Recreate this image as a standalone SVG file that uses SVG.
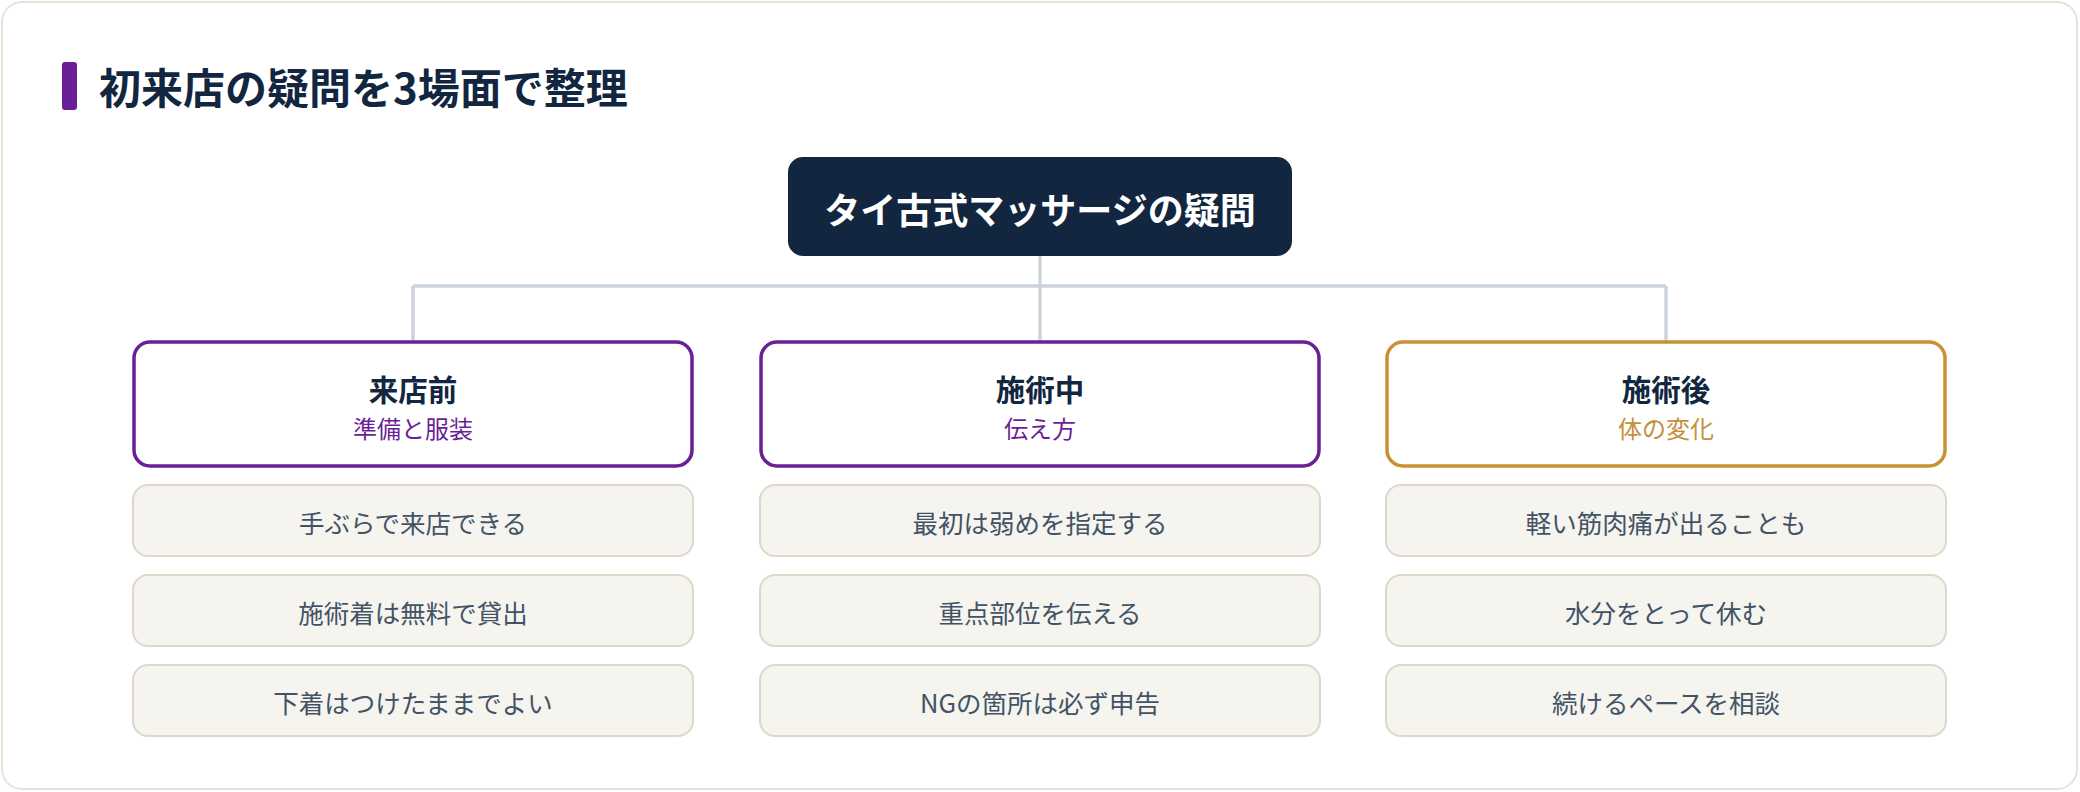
<svg xmlns="http://www.w3.org/2000/svg" width="2080" height="792" viewBox="0 0 2080 792">
  <style>
    .jp { font-family: "Noto Sans CJK JP", "Noto Sans", sans-serif; }
    .heading { font-size: 42px; font-weight: 700; fill: #12263f; }
    .root-text { font-size: 36px; font-weight: 700; fill: #ffffff; }
    .card { fill: #ffffff; stroke-width: 3.5; }
    .card.purple { stroke: #6b1f96; }
    .card.gold { stroke: #c89234; }
    .card-title { font-size: 29.5px; font-weight: 700; fill: #12263f; }
    .card-sub { font-size: 24px; font-weight: 400; }
    .sub-purple { fill: #6b1f96; }
    .sub-gold { fill: #c4903a; }
    .item { fill: #f6f4ef; stroke: #ddd8c8; stroke-width: 2; }
    .item-text { font-size: 25.5px; font-weight: 400; fill: #425366; }
    .conn { stroke: #ccd2dc; stroke-width: 3.5; fill: none; }
  </style>

  <rect x="0" y="0" width="2080" height="792" fill="#ffffff"/>
  <rect id="frame" x="2" y="2" width="2075" height="787" rx="20" fill="#ffffff" stroke="#e6e3d6" stroke-width="2"/>

  <g id="title">
    <rect x="62" y="62" width="15" height="48" rx="3" fill="#6b1f96"/>
    <text class="jp heading" x="99" y="85" dominant-baseline="central">初来店の疑問を3場面で整理</text>
  </g>

  <g id="connectors">
    <line class="conn" x1="1040" y1="256" x2="1040" y2="341"/>
    <line class="conn" x1="413" y1="286" x2="1666" y2="286"/>
    <line class="conn" x1="413" y1="286" x2="413" y2="341"/>
    <line class="conn" x1="1666" y1="286" x2="1666" y2="341"/>
  </g>

  <g id="root">
    <rect x="788" y="157" width="504" height="99" rx="15" fill="#12263f"/>
    <text class="jp root-text" x="1040" y="208" text-anchor="middle" dominant-baseline="central">タイ古式マッサージの疑問</text>
  </g>

  <g id="before">
    <rect class="card purple" x="134" y="342" width="558" height="124" rx="16"/>
    <text class="jp card-title" x="413" y="388" text-anchor="middle" dominant-baseline="central">来店前</text>
    <text class="jp card-sub sub-purple" x="413" y="427" text-anchor="middle" dominant-baseline="central">準備と服装</text>
  </g>
  <g id="before-1">
    <rect class="item" x="133" y="485" width="560" height="71" rx="15"/>
    <text class="jp item-text" x="413" y="521" text-anchor="middle" dominant-baseline="central">手ぶらで来店できる</text>
  </g>
  <g id="before-2">
    <rect class="item" x="133" y="575" width="560" height="71" rx="15"/>
    <text class="jp item-text" x="413" y="611" text-anchor="middle" dominant-baseline="central">施術着は無料で貸出</text>
  </g>
  <g id="before-3">
    <rect class="item" x="133" y="665" width="560" height="71" rx="15"/>
    <text class="jp item-text" x="413" y="701" text-anchor="middle" dominant-baseline="central">下着はつけたままでよい</text>
  </g>

  <g id="during">
    <rect class="card purple" x="761" y="342" width="558" height="124" rx="16"/>
    <text class="jp card-title" x="1040" y="388" text-anchor="middle" dominant-baseline="central">施術中</text>
    <text class="jp card-sub sub-purple" x="1040" y="427" text-anchor="middle" dominant-baseline="central">伝え方</text>
  </g>
  <g id="during-1">
    <rect class="item" x="760" y="485" width="560" height="71" rx="15"/>
    <text class="jp item-text" x="1040" y="521" text-anchor="middle" dominant-baseline="central">最初は弱めを指定する</text>
  </g>
  <g id="during-2">
    <rect class="item" x="760" y="575" width="560" height="71" rx="15"/>
    <text class="jp item-text" x="1040" y="611" text-anchor="middle" dominant-baseline="central">重点部位を伝える</text>
  </g>
  <g id="during-3">
    <rect class="item" x="760" y="665" width="560" height="71" rx="15"/>
    <text class="jp item-text" x="1040" y="701" text-anchor="middle" dominant-baseline="central">NGの箇所は必ず申告</text>
  </g>

  <g id="after">
    <rect class="card gold" x="1387" y="342" width="558" height="124" rx="16"/>
    <text class="jp card-title" x="1666" y="388" text-anchor="middle" dominant-baseline="central">施術後</text>
    <text class="jp card-sub sub-gold" x="1666" y="427" text-anchor="middle" dominant-baseline="central">体の変化</text>
  </g>
  <g id="after-1">
    <rect class="item" x="1386" y="485" width="560" height="71" rx="15"/>
    <text class="jp item-text" x="1666" y="521" text-anchor="middle" dominant-baseline="central">軽い筋肉痛が出ることも</text>
  </g>
  <g id="after-2">
    <rect class="item" x="1386" y="575" width="560" height="71" rx="15"/>
    <text class="jp item-text" x="1666" y="611" text-anchor="middle" dominant-baseline="central">水分をとって休む</text>
  </g>
  <g id="after-3">
    <rect class="item" x="1386" y="665" width="560" height="71" rx="15"/>
    <text class="jp item-text" x="1666" y="701" text-anchor="middle" dominant-baseline="central">続けるペースを相談</text>
  </g>
</svg>
